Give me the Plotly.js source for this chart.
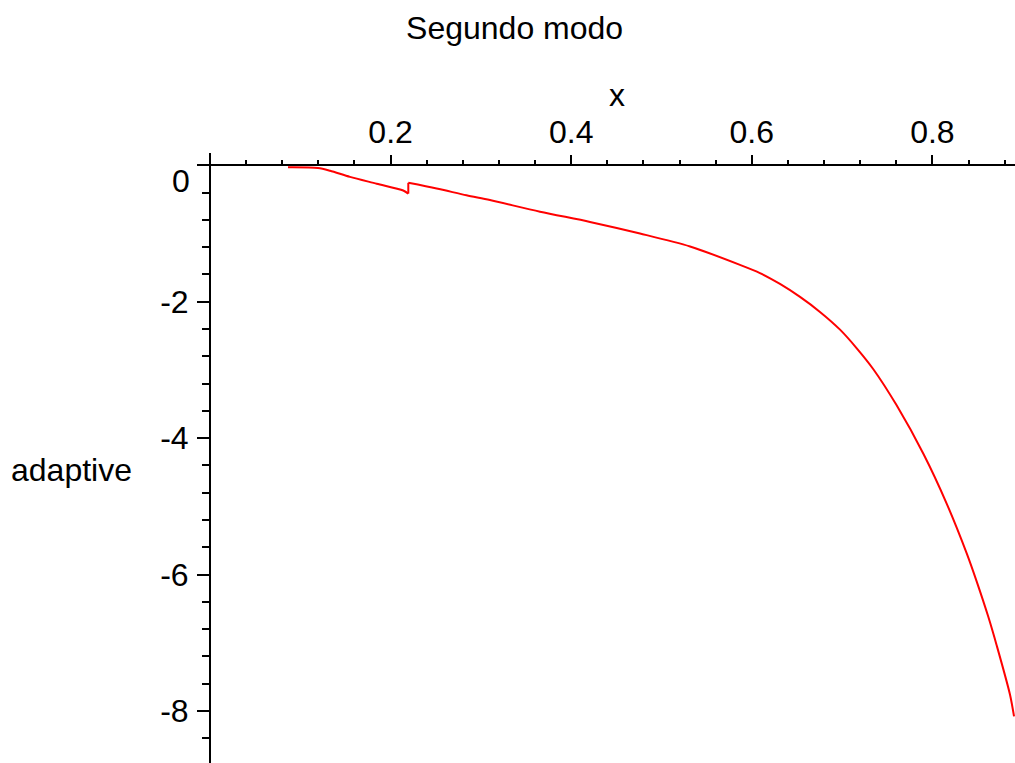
<!DOCTYPE html>
<html>
<head>
<meta charset="utf-8">
<script src="https://cdn.plot.ly/plotly-3.0.1.min.js"></script>
<style>
  html, body { margin: 0; padding: 0; background: #ffffff; }
  #chart { width: 1015px; height: 763px; }
</style>
</head>
<body>
<div id="chart"></div>
<script>
// ---- data ----
const xValues = [0.0864, 0.1196, 0.133, 0.155, 0.1846, 0.214, 0.2196, 0.2196, 0.251, 0.284,
                 0.310, 0.3654, 0.4208, 0.4762, 0.5316, 0.5869, 0.609, 0.6312, 0.6534, 0.6755,
                 0.6977, 0.716, 0.7346, 0.7604, 0.790, 0.8158, 0.838, 0.849, 0.8619, 0.8712,
                 0.8859, 0.8904];
const yValues = [-0.03, -0.04, -0.08, -0.17, -0.27, -0.37, -0.415, -0.257, -0.34, -0.44,
                 -0.51, -0.68, -0.83, -1.00, -1.19, -1.46, -1.58, -1.74, -1.93, -2.15,
                 -2.41, -2.68, -2.99, -3.52, -4.23, -4.96, -5.69, -6.10, -6.62, -7.04,
                 -7.76, -8.08];
const jumpIndex = 6; // the curve jumps between point 6 and point 7
const xTickVals = [0.2, 0.4, 0.6, 0.8];
const xTickText = ['0.2', '0.4', '0.6', '0.8'];
const yTickVals = [-8, -6, -4, -2, 0];
const yTickText = ['-8', '-6', '-4', '-2', ''];
const titleText = 'Segundo modo';
const xLabel = 'x';
const yLabel = 'adaptive';

const FONT = 'Liberation Sans, Arial, sans-serif';
const FS = 32;

const xRange = [-0.01329, 0.89147];
const yRange = [-8.764, 0.1804];
const xAxisPos = (0 - yRange[0]) / (yRange[1] - yRange[0]);
const yAxisPos = (0 - xRange[0]) / (xRange[1] - xRange[0]);

const lineStyle = { color: '#ff0000', width: 2 };
const traces = [
  { x: xValues.slice(0, jumpIndex + 1), y: yValues.slice(0, jumpIndex + 1),
    type: 'scatter', mode: 'lines', line: Object.assign({ shape: 'spline', smoothing: 0.8 }, lineStyle), hoverinfo: 'skip' },
  { x: xValues.slice(jumpIndex, jumpIndex + 2), y: yValues.slice(jumpIndex, jumpIndex + 2),
    type: 'scatter', mode: 'lines', line: lineStyle, hoverinfo: 'skip' },
  { x: xValues.slice(jumpIndex + 1), y: yValues.slice(jumpIndex + 1),
    type: 'scatter', mode: 'lines', line: Object.assign({ shape: 'spline', smoothing: 0.8 }, lineStyle), hoverinfo: 'skip' }
];

const layout = {
  width: 1015, height: 763,
  margin: { l: 198, r: 0, t: 153, b: 0, pad: 0 },
  paper_bgcolor: '#ffffff', plot_bgcolor: '#ffffff',
  showlegend: false,
  font: { family: FONT, size: FS, color: '#000000' },
  title: {
    text: titleText, xref: 'container', yref: 'container',
    x: 0.507, y: 0.963, xanchor: 'center', yanchor: 'middle',
    font: { family: FONT, size: FS, color: '#000000' }
  },
  xaxis: {
    range: xRange, anchor: 'free', position: xAxisPos, side: 'top',
    showline: true, linecolor: '#000000', linewidth: 2,
    showgrid: false, zeroline: false,
    tickmode: 'array', tickvals: xTickVals, ticktext: xTickText,
    ticks: 'outside', ticklen: 9, tickwidth: 2, tickcolor: '#000000',
    ticklabelstandoff: 0,
    tickfont: { family: FONT, size: FS, color: '#000000' },
    minor: { dtick: 0.04, tick0: 0, ticks: 'outside', ticklen: 4, tickwidth: 2, tickcolor: '#000000', showgrid: false },
    fixedrange: true
  },
  yaxis: {
    range: yRange, anchor: 'free', position: yAxisPos, side: 'left',
    showline: true, linecolor: '#000000', linewidth: 2,
    showgrid: false, zeroline: false,
    tickmode: 'array', tickvals: yTickVals, ticktext: yTickText,
    ticks: 'outside', ticklen: 12, tickwidth: 2, tickcolor: '#000000',
    ticklabelstandoff: 2,
    tickfont: { family: FONT, size: FS, color: '#000000' },
    minor: { dtick: 0.4, tick0: 0, ticks: 'outside', ticklen: 7, tickwidth: 2, tickcolor: '#000000', showgrid: false },
    fixedrange: true
  },
  annotations: [
    { text: '0', xref: 'x', yref: 'y', x: 0, y: 0, xanchor: 'right', yanchor: 'middle',
      xshift: -18, yshift: -16, showarrow: false, font: { family: FONT, size: FS, color: '#000000' } },
    { text: xLabel, xref: 'paper', yref: 'paper', x: 0.5129, y: 1.0951, xanchor: 'center', yanchor: 'middle',
      showarrow: false, font: { family: FONT, size: FS, color: '#000000' } },
    { text: yLabel, xref: 'paper', yref: 'paper', x: -0.1554, y: 0.4803, xanchor: 'center', yanchor: 'middle',
      showarrow: false, font: { family: FONT, size: FS, color: '#000000' } }
  ]
};

Plotly.newPlot('chart', traces, layout, { staticPlot: true, displayModeBar: false });
</script>
</body>
</html>
